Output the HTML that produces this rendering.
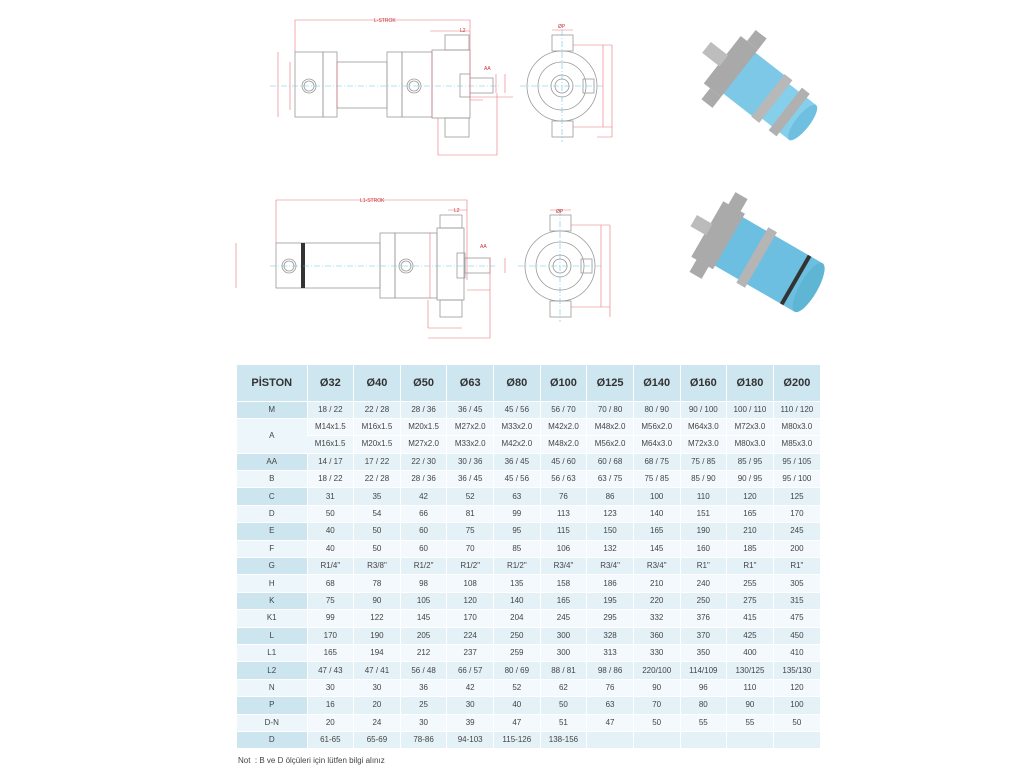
<!DOCTYPE html>
<html><head><meta charset="utf-8"><style>
body{margin:0;width:1024px;height:768px;background:#fff;overflow:hidden;position:relative;font-family:"Liberation Sans",sans-serif}
table{position:absolute;left:237px;top:365px;border-collapse:collapse;table-layout:fixed;width:583px}
td{font-size:8px;color:#444;text-align:center;height:17.4px;padding:0;border-left:1px solid #fff;border-bottom:1px solid #fff;line-height:8px;box-sizing:border-box}
td:first-child{width:70px;border-left:none}
tr.h td{height:36px;background:#cde6f0;font-size:11px;font-weight:bold;color:#333}
tr.a td{background:#e4f1f7}
tr.a td:first-child{background:#cde5ef}
tr.b td{background:#f3f9fc}
tr.b td:first-child{background:#edf6fa}
#note{position:absolute;left:238px;top:756px;font-size:8px;color:#444}
</style></head><body>
<svg width="1024" height="360" style="position:absolute;left:0;top:0" fill="none" stroke-width="0.8">
<g stroke="#999">
<rect x="295" y="52" width="28" height="65"/><rect x="323" y="52" width="14" height="65"/>
<rect x="337" y="62" width="50" height="46"/><rect x="387" y="52" width="15" height="65"/>
<rect x="402" y="52" width="30" height="65"/><rect x="432" y="50" width="38" height="68"/>
<rect x="445" y="35" width="24" height="15"/><rect x="445" y="118" width="24" height="19"/>
<rect x="470" y="78" width="23" height="15"/><rect x="460" y="74" width="10" height="23"/>
<circle cx="309" cy="86" r="7"/><circle cx="309" cy="86" r="5"/>
<circle cx="414" cy="86" r="7"/><circle cx="414" cy="86" r="5"/>
<circle cx="562" cy="86" r="35"/><circle cx="562" cy="86" r="24"/><circle cx="562" cy="86" r="11"/><circle cx="562" cy="86" r="7"/>
<rect x="552" y="35" width="21" height="16"/><rect x="552" y="121" width="21" height="16"/><rect x="583" y="79" width="11" height="14"/>
<rect x="276" y="243" width="104" height="45"/><rect x="380" y="233" width="15" height="65"/>
<rect x="395" y="233" width="42" height="65"/><rect x="437" y="228" width="27" height="72"/>
<rect x="440" y="215" width="22" height="13"/><rect x="440" y="300" width="22" height="17"/>
<rect x="465" y="258" width="25" height="15"/><rect x="457" y="253" width="8" height="25"/>
<circle cx="289" cy="266" r="7"/><circle cx="289" cy="266" r="5"/>
<circle cx="406" cy="266" r="7"/><circle cx="406" cy="266" r="5"/>
<circle cx="560" cy="266" r="35"/><circle cx="560" cy="266" r="24"/><circle cx="560" cy="266" r="11"/><circle cx="560" cy="266" r="7"/>
<rect x="550" y="215" width="21" height="16"/><rect x="550" y="301" width="21" height="16"/><rect x="581" y="259" width="11" height="14"/>
</g>
<rect x="301" y="243" width="4" height="45" fill="#333"/>
<g stroke="#6cc3e8" stroke-dasharray="6 2 1 2" stroke-width="0.6">
<line x1="270" y1="86" x2="500" y2="86"/><line x1="520" y1="86" x2="605" y2="86"/><line x1="562" y1="30" x2="562" y2="142"/>
<line x1="270" y1="266" x2="495" y2="266"/><line x1="518" y1="266" x2="603" y2="266"/><line x1="560" y1="210" x2="560" y2="322"/>
</g>
<g stroke="#e8737f" stroke-width="0.6">
<path d="M295 52V20H470V100M278 52V117M290 62V110M337 62V108M432 52V117M430 31H470M470 100H483M496 74V93M505 74V93M470 97H513M438 118V155H470M438 155H497V93"/>
<path d="M552 30H573M573 45H612M573 127H612M603 45V127M612 45V137M597 137H612"/>
<path d="M276 243V200H467V280M236 243V288M430 233V298M448 210H467M490 258V273M505 258V273M467 290H490M428 300V328H462M428 338H490V273"/>
<path d="M550 210H571M571 225H610M571 307H610M601 225V307M610 225V317"/>
</g>
<g font-size="5" fill="#c33" font-family="Liberation Sans">
<text x="374" y="22">L-STROK</text><text x="460" y="32">L2</text><text x="484" y="70">AA</text>
<text x="360" y="202">L1-STROK</text><text x="454" y="212">L2</text><text x="480" y="248">AA</text>
<text x="558" y="28">ØP</text><text x="556" y="213">ØP</text>
</g>
<g transform="translate(738,72) rotate(38)">
<rect x="0" y="-26" width="40" height="52" fill="#7cc8e6"/>
<rect x="40" y="-22" width="42" height="44" fill="#86cfeb"/>
<rect x="38" y="-27" width="10" height="54" fill="#b8b8b8"/>
<rect x="60" y="-27" width="10" height="54" fill="#b0b0b0"/>
<rect x="-20" y="-30" width="22" height="60" fill="#a9a9a9"/>
<rect x="-40" y="-7" width="22" height="14" fill="#bdbdbd"/>
<rect x="-12" y="-44" width="14" height="14" fill="#aaa"/><rect x="-12" y="30" width="14" height="14" fill="#aaa"/>
<ellipse cx="82" cy="0" rx="7" ry="22" fill="#6fc0e0"/>
</g>
<g transform="translate(735,245) rotate(30)">
<rect x="-10" y="-28" width="95" height="56" fill="#6cbfe0"/>
<rect x="20" y="-32" width="10" height="64" fill="#b5b5b5"/>
<rect x="-32" y="-32" width="25" height="64" fill="#aaa"/>
<rect x="-48" y="-7" width="18" height="13" fill="#bbb"/>
<rect x="-26" y="-46" width="14" height="15" fill="#aaa"/><rect x="-26" y="31" width="14" height="15" fill="#aaa"/>
<rect x="68" y="-28" width="4" height="56" fill="#333"/>
<ellipse cx="85" cy="0" rx="9" ry="28" fill="#5fb5d4"/>
</g>
</svg>
<table>
<tr class="h"><td>PİSTON</td><td>Ø32</td><td>Ø40</td><td>Ø50</td><td>Ø63</td><td>Ø80</td><td>Ø100</td><td>Ø125</td><td>Ø140</td><td>Ø160</td><td>Ø180</td><td>Ø200</td></tr>
<tr class="a"><td>M</td><td>18 / 22</td><td>22 / 28</td><td>28 / 36</td><td>36 / 45</td><td>45 / 56</td><td>56 / 70</td><td>70 / 80</td><td>80 / 90</td><td>90 / 100</td><td>100 / 110</td><td>110 / 120</td></tr>
<tr class="b"><td rowspan="2">A</td><td>M14x1.5</td><td>M16x1.5</td><td>M20x1.5</td><td>M27x2.0</td><td>M33x2.0</td><td>M42x2.0</td><td>M48x2.0</td><td>M56x2.0</td><td>M64x3.0</td><td>M72x3.0</td><td>M80x3.0</td></tr>
<tr class="b"><td>M16x1.5</td><td>M20x1.5</td><td>M27x2.0</td><td>M33x2.0</td><td>M42x2.0</td><td>M48x2.0</td><td>M56x2.0</td><td>M64x3.0</td><td>M72x3.0</td><td>M80x3.0</td><td>M85x3.0</td></tr>
<tr class="a"><td>AA</td><td>14 / 17</td><td>17 / 22</td><td>22 / 30</td><td>30 / 36</td><td>36 / 45</td><td>45 / 60</td><td>60 / 68</td><td>68 / 75</td><td>75 / 85</td><td>85 / 95</td><td>95 / 105</td></tr>
<tr class="b"><td>B</td><td>18 / 22</td><td>22 / 28</td><td>28 / 36</td><td>36 / 45</td><td>45 / 56</td><td>56 / 63</td><td>63 / 75</td><td>75 / 85</td><td>85 / 90</td><td>90 / 95</td><td>95 / 100</td></tr>
<tr class="a"><td>C</td><td>31</td><td>35</td><td>42</td><td>52</td><td>63</td><td>76</td><td>86</td><td>100</td><td>110</td><td>120</td><td>125</td></tr>
<tr class="b"><td>D</td><td>50</td><td>54</td><td>66</td><td>81</td><td>99</td><td>113</td><td>123</td><td>140</td><td>151</td><td>165</td><td>170</td></tr>
<tr class="a"><td>E</td><td>40</td><td>50</td><td>60</td><td>75</td><td>95</td><td>115</td><td>150</td><td>165</td><td>190</td><td>210</td><td>245</td></tr>
<tr class="b"><td>F</td><td>40</td><td>50</td><td>60</td><td>70</td><td>85</td><td>106</td><td>132</td><td>145</td><td>160</td><td>185</td><td>200</td></tr>
<tr class="a"><td>G</td><td>R1/4"</td><td>R3/8"</td><td>R1/2"</td><td>R1/2"</td><td>R1/2"</td><td>R3/4"</td><td>R3/4"</td><td>R3/4"</td><td>R1"</td><td>R1"</td><td>R1"</td></tr>
<tr class="b"><td>H</td><td>68</td><td>78</td><td>98</td><td>108</td><td>135</td><td>158</td><td>186</td><td>210</td><td>240</td><td>255</td><td>305</td></tr>
<tr class="a"><td>K</td><td>75</td><td>90</td><td>105</td><td>120</td><td>140</td><td>165</td><td>195</td><td>220</td><td>250</td><td>275</td><td>315</td></tr>
<tr class="b"><td>K1</td><td>99</td><td>122</td><td>145</td><td>170</td><td>204</td><td>245</td><td>295</td><td>332</td><td>376</td><td>415</td><td>475</td></tr>
<tr class="a"><td>L</td><td>170</td><td>190</td><td>205</td><td>224</td><td>250</td><td>300</td><td>328</td><td>360</td><td>370</td><td>425</td><td>450</td></tr>
<tr class="b"><td>L1</td><td>165</td><td>194</td><td>212</td><td>237</td><td>259</td><td>300</td><td>313</td><td>330</td><td>350</td><td>400</td><td>410</td></tr>
<tr class="a"><td>L2</td><td>47 / 43</td><td>47 / 41</td><td>56 / 48</td><td>66 / 57</td><td>80 / 69</td><td>88 / 81</td><td>98 / 86</td><td>220/100</td><td>114/109</td><td>130/125</td><td>135/130</td></tr>
<tr class="b"><td>N</td><td>30</td><td>30</td><td>36</td><td>42</td><td>52</td><td>62</td><td>76</td><td>90</td><td>96</td><td>110</td><td>120</td></tr>
<tr class="a"><td>P</td><td>16</td><td>20</td><td>25</td><td>30</td><td>40</td><td>50</td><td>63</td><td>70</td><td>80</td><td>90</td><td>100</td></tr>
<tr class="b"><td>D-N</td><td>20</td><td>24</td><td>30</td><td>39</td><td>47</td><td>51</td><td>47</td><td>50</td><td>55</td><td>55</td><td>50</td></tr>
<tr class="a"><td>D</td><td>61-65</td><td>65-69</td><td>78-86</td><td>94-103</td><td>115-126</td><td>138-156</td><td></td><td></td><td></td><td></td><td></td></tr>
</table>
<div id="note">Not &nbsp;: B ve D ölçüleri için lütfen bilgi alınız</div>
</body></html>
